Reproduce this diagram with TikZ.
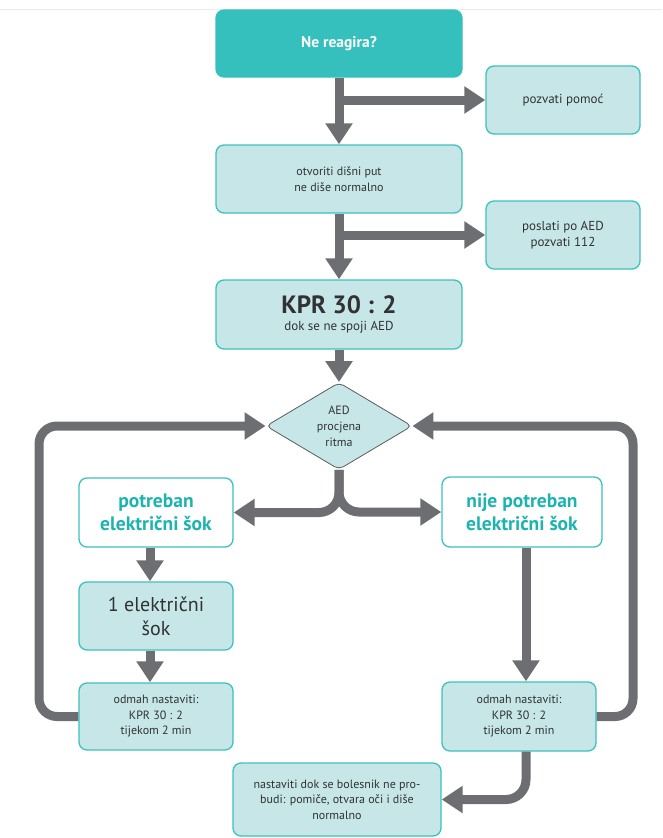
\documentclass[tikz,border=0pt]{standalone}
\usepackage{fontspec}
\setmainfont{PT Sans}
\usetikzlibrary{arrows.meta,shapes.geometric}
\definecolor{tealfill}{RGB}{54,192,189}
\definecolor{lightf}{RGB}{198,230,231}
\definecolor{bord}{RGB}{61,193,190}
\definecolor{arrg}{RGB}{109,110,113}
\definecolor{txt}{RGB}{50,50,52}
\definecolor{tealtxt}{RGB}{29,180,176}
\begin{document}
\begin{tikzpicture}[x=1pt,y=-1pt,
  box/.style={draw=bord, line width=1.3pt, fill=lightf, rounded corners=8pt, align=center,
    text=txt, inner sep=0pt, font=\fontsize{12}{15.5}\selectfont},
  sidebox/.style={box, font=\fontsize{13}{16}\selectfont},
  topbox/.style={box, draw=tealfill, fill=tealfill, text=white, font=\fontsize{15.5}{18}\selectfont\bfseries},
  bigbox/.style={box, fill=white, text=tealtxt, font=\fontsize{19.5}{23}\selectfont\bfseries},
  midbox/.style={box, font=\fontsize{20}{24}\selectfont},
  dia/.style={diamond, aspect=1.68, draw=txt!80, line width=0.8pt, fill=lightf, rounded corners=5pt,
    align=center, text=txt, inner sep=0pt, font=\fontsize{12}{16}\selectfont},
  arr/.style={draw=arrg, line width=9pt, -{Triangle[length=21pt,width=26pt]}},
  loop/.style={arr, rounded corners=18pt}
]
\path[use as bounding box] (0,0) rectangle (662,838);
\draw[black!8, line width=1pt] (0,9) -- (662,9);

\node[topbox, minimum width=246pt, minimum height=67pt] (start) at (339,43.5) {Ne reagira?};
\node[sidebox, minimum width=154pt, minimum height=68pt] (help) at (563,100) {pozvati pomoć};
\node[box, minimum width=246pt, minimum height=68pt] (airway) at (339,179) {otvoriti dišni put\\ne diše normalno};
\node[sidebox, minimum width=154pt, minimum height=68pt] (aed) at (563,235) {poslati po AED\\pozvati 112};
\node[box, minimum width=246pt, minimum height=69pt, font=\fontsize{13}{16}\selectfont] (kpr) at (339,314.5)
  {{\fontsize{25}{26}\selectfont\bfseries KPR 30 : 2}\\[1pt]dok se ne spoji AED};
\node[dia, minimum width=146pt, minimum height=87pt] (rhythm) at (339,426) {AED\\procjena\\ritma};
\node[bigbox, minimum width=154pt, minimum height=69pt] (shock) at (156,512.5) {potreban\\električni šok};
\node[bigbox, minimum width=160pt, minimum height=70pt] (noshock) at (522,512) {nije potreban\\električni šok};
\node[midbox, minimum width=154pt, minimum height=68pt] (one) at (156,616) {1 električni\\šok};
\node[box, minimum width=154pt, minimum height=67pt] (contL) at (156,716.5) {odmah nastaviti:\\KPR 30 : 2\\tijekom 2 min};
\node[box, minimum width=154pt, minimum height=69pt] (contR) at (519,716.5) {odmah nastaviti:\\KPR 30 : 2\\tijekom 2 min};
\node[box, minimum width=208pt, minimum height=73pt] (final) at (337,799.5) {nastaviti dok se bolesnik ne pro-\\budi: pomiče, otvara oči i diše\\normalno};

\coordinate (rx) at (526,0);
\coordinate (lx) at (150,0);

\draw[arr] (start.south) -- (airway.north);
\draw[arr] (start.south |- help.west) -- (help.west);
\draw[arr] (airway.south) -- (kpr.north);
\draw[arr] (airway.south |- aed.west) -- (aed.west);
\draw[arr] (kpr.south) -- (rhythm.north);
\draw[arr, rounded corners=20pt] (rhythm.south) |- (shock.east);
\draw[arr, rounded corners=20pt] (rhythm.south) |- (noshock.west);
\draw[arr] (shock.south -| lx) -- (one.north -| lx);
\draw[arr] (one.south -| lx) -- (contL.north -| lx);
\draw[loop] (contL.west) -| (39,426) -- (rhythm.west);
\draw[arr] (noshock.south -| rx) -- (contR.north -| rx);
\draw[loop] (contR.east) -| (633,426) -- (rhythm.east);
\draw[arr, rounded corners=20pt] (contR.south -| rx) |- (final.east);
\end{tikzpicture}
\end{document}
